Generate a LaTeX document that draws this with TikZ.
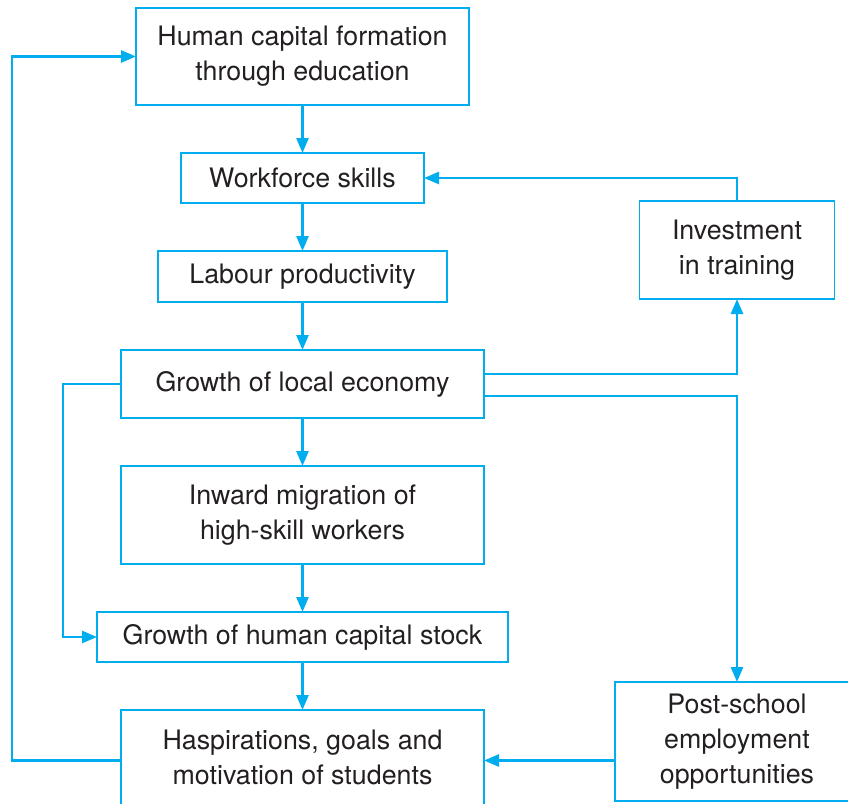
\documentclass[tikz,border=0pt]{standalone}
\usepackage{fontspec}
\setmainfont{TeX Gyre Heros}
\usetikzlibrary{arrows.meta,positioning}
\definecolor{flowblue}{HTML}{00AEEF}
\definecolor{inkgrey}{HTML}{231F20}

\begin{document}
\begin{tikzpicture}[
    x = 1pt, y = -1pt, % pixel-like units, y grows downwards
    > = {Triangle[length=15pt,width=12pt]}, % arrow head style
    node distance = 48pt, % gap between boxes in the column
    link/.style = {draw = flowblue, line width = 2.6pt} % connector style
    ]

    \tikzset{box/.style={
    draw = flowblue,
    line width = 1.4pt,
    text = inkgrey,
    align = center,
    inner sep = 0pt,
    outer sep = 0pt,
    font = \fontsize{26.8}{35}\selectfont
    }}

    \useasboundingbox (0,0) rectangle (848,803);

    % main column
    \node[box, minimum width=333pt, minimum height=97pt] (hc) at (302.5,56.5) {Human capital formation\\through education};
    \node[box, minimum width=243pt, minimum height=50pt] (ws) [below=of hc] {Workforce skills};
    \node[box, minimum width=289pt, minimum height=51pt] (lp) [below=of ws] {Labour productivity};
    \node[box, minimum width=363pt, minimum height=68pt] (gle) [below=of lp] {Growth of local economy};
    \node[box, minimum width=363pt, minimum height=98pt] (im) [below=of gle] {Inward migration of\\high-skill workers};
    \node[box, minimum width=411pt, minimum height=50pt] (ghc) [below=of im] {Growth of human capital stock};
    \node[box, minimum width=363pt, minimum height=95pt] (has) [below=of ghc] {Haspirations, goals and\\motivation of students};

    % right side
    \node[box, minimum width=195pt, minimum height=98pt] (inv) at (737,250) {Investment\\in training};
    \node[box, minimum width=244pt, minimum height=119pt] (pse) at (737,741.5) {Post-school\\employment\\opportunities};

    \path[->] (hc) edge[link] (ws);
    \path[->] (ws) edge[link] (lp);
    \path[->] (lp) edge[link] (gle);
    \path[->] (gle) edge[link] (im);
    \path[->] (im) edge[link] (ghc);
    \path[->] (ghc) edge[link] (has);

    \draw[link, ->] (inv.north) |- (ws.east);
    \draw[link, ->] ([yshift=10pt]gle.east) -| (inv.south);
    \draw[link, ->] ([yshift=-12pt]gle.east) -| (pse.north);
    \draw[link, ->] (gle.west) -- ++(-58,0) |- (ghc.west);
    \draw[link, ->] ([yshift=-3pt]has.west) -- ++(-109,0) |- (hc.west);
    \draw[link, ->] (pse.west |- has.east) ++(0,3) -- ([yshift=-3pt]has.east);
\end{tikzpicture}
\end{document}
